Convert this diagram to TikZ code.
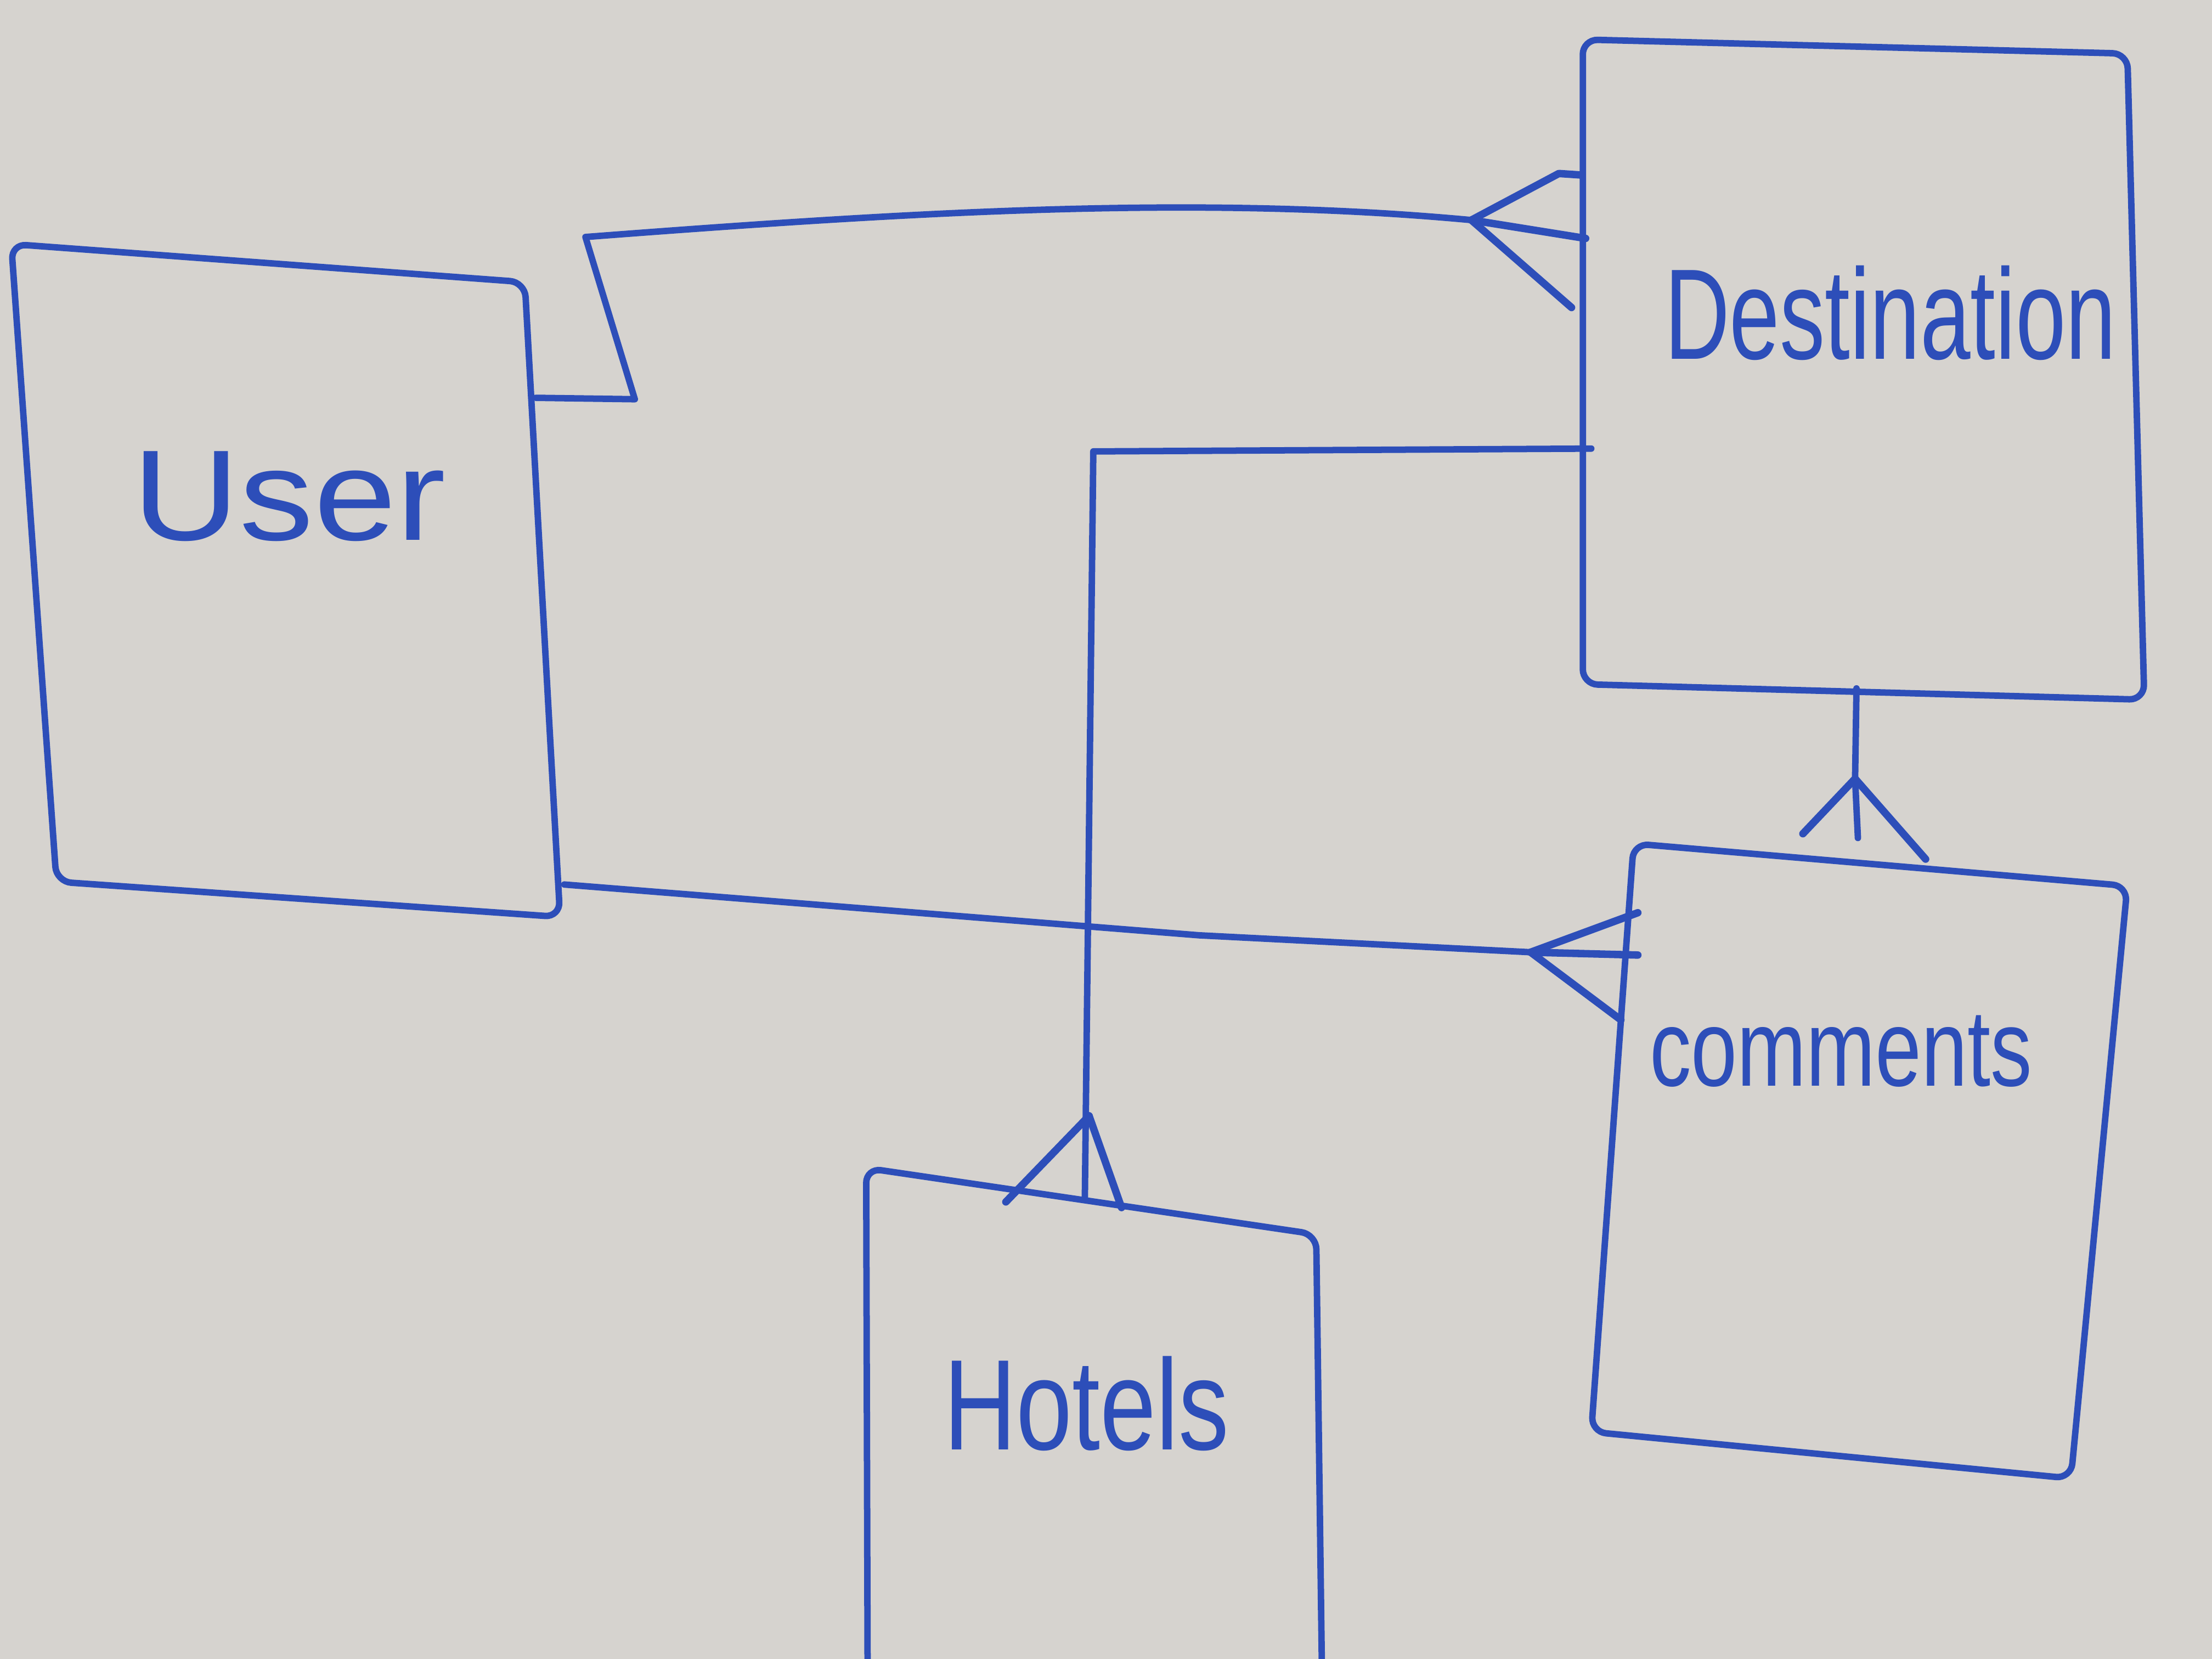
\documentclass[tikz,border=0pt]{standalone}
\usepackage{fontspec}
\usepackage{graphicx}
\setmainfont{Liberation Sans}
\definecolor{board}{RGB}{214,211,207}
\definecolor{marker}{RGB}{45,78,185}
\tikzset{
  ink/.style={draw=marker, line width=1.3pt, line cap=round, line join=round},
  entity/.style={ink, rounded corners=3pt},
  label/.style={text=marker, inner sep=0pt, font=\fontsize{26}{28}\selectfont},
  link/.style={ink},
  prong/.style={ink, line width=1.5pt}
}
\begin{document}
\begin{tikzpicture}[x=0.01cm, y=-0.01cm]
  \fill[board] (0,0) rectangle (1568,1176);
  \useasboundingbox (0,0) rectangle (1568,1176);

  % entities
  \draw[entity] (8,173) -- (372,200) -- (397,650) -- (40,625) -- cycle;
  \node[label] (user) at (205,352) {\scalebox{1.15}[1]{User}};

  \draw[entity] (1122,28) -- (1508,38) -- (1520,496) -- (1122,485) -- cycle;
  \node[label] (dest) at (1340,222) {\scalebox{0.7}[1]{Destination}};

  \draw[entity] (1158,598) -- (1508,628) -- (1468,1048) -- (1128,1015) -- cycle;
  \node[label, font=\fontsize{22}{24}\selectfont] (comm) at (1305,745) {\scalebox{0.76}[1]{comments}};

  \draw[entity] (615,1180) -- (614,828) -- (933,875) -- (937,1180);
  \node[label] (hotel) at (770,995) {\scalebox{0.78}[1]{Hotels}};

  % anchor points
  \coordinate (uR1) at (380,282);
  \coordinate (uR2) at (400,627);
  \coordinate (dL1) at (1128,318);
  \coordinate (dB) at (1316,488);

  % User -- Destination (many at Destination)
  \coordinate (a1) at (1043,156);
  \draw[link] (uR1) -- (450,283) -- (415,168) .. controls (650,150) and (850,138) .. (a1);
  \draw[prong] (a1) -- (1105,123) -- (1120,124);
  \draw[prong] (a1) -- (1124,169);
  \draw[prong] (a1) -- (1114,218);

  % Destination -- Hotels (many at Hotels)
  \coordinate (a2) at (772,791);
  \draw[link] (dL1) -- (775,320) -- (769,850);
  \draw[prong] (a2) -- (713,852);
  \draw[prong] (a2) -- (795,856);

  % Destination -- comments (many at comments)
  \coordinate (a3) at (1315,552);
  \draw[link] (dB) -- (a3) -- (1317,594);
  \draw[prong] (a3) -- (1278,591);
  \draw[prong] (a3) -- (1365,609);

  % User -- comments (many at comments)
  \coordinate (a4) at (1085,675);
  \draw[link] (uR2) -- (700,651) -- (850,663) -- (a4);
  \draw[prong] (a4) -- (1161,647);
  \draw[prong] (a4) -- (1161,677);
  \draw[prong] (a4) -- (1149,723);
\end{tikzpicture}
\end{document}
